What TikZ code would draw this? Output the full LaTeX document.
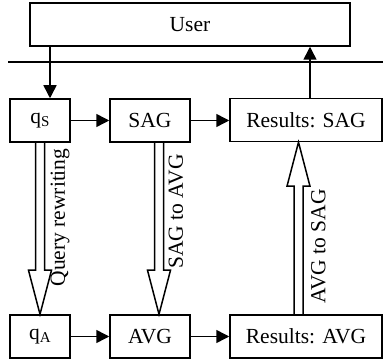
\documentclass[tikz,border=0pt]{standalone}
\usepackage{fontspec}
\setmainfont{Liberation Serif}
\usetikzlibrary{arrows.meta,calc,positioning}
\tikzstyle{block} = [draw, line width=1.5pt, minimum height=43pt, inner sep=0pt, font=\fontsize{21.5}{24}\selectfont]
\tikzstyle{flow} = [line width=1.5pt, -{Triangle[length=13pt,width=13pt]}]
\tikzstyle{fat} = [line width=1.5pt, line join=miter]
\tikzstyle{lbl} = [inner sep=0pt, rotate=90, font=\fontsize{21.5}{24}\selectfont]
\newcommand{\sub}[1]{\raisebox{-3pt}{\fontsize{15}{15}\selectfont #1}}
% hollow arrow: #1 start, #2 tip, #3 = 1 (down) or -1 (up)
\newcommand{\fatarrow}[3]{%
	\draw[fat] ($(#1)+(-4.5,0)$) -- ($(#2)+(-4.5,#3*44)$) -- ($(#2)+(-11.5,#3*44)$)
		-- (#2) -- ($(#2)+(11.5,#3*44)$) -- ($(#2)+(4.5,#3*44)$) -- ($(#1)+(4.5,0)$);}

\begin{document}
\begin{tikzpicture}[x=1pt,y=1pt]

	\useasboundingbox (0,0) rectangle (383,361);

	\node[block, minimum width=320pt] (user) at (190,336.5) {User};
	\draw[line width=1.5pt] (8,299) -- (383,299);

	\node[block, minimum width=60pt] (qs) at (40,240.5) {q\sub{S}};
	\node[block, minimum width=80pt] (sag) at (150,240.5) {SAG};
	\node[block, minimum width=152pt] (ressag) at (306,241) {Results: SAG};

	\node[block, minimum width=60pt] (qa) at (40,24.5) {q\sub{A}};
	\node[block, minimum width=80pt] (avg) at (150,24.5) {AVG};
	\node[block, minimum width=152pt] (resavg) at (306,24.5) {Results: AVG};

	\coordinate (qsin) at ($(qs.north)+(10,0)$);
	\coordinate (sagout) at ($(sag.south)+(9,0)$);
	\coordinate (avgin) at ($(avg.north)+(9,0)$);
	\coordinate (resavgout) at ($(resavg.north)+(-7.5,0)$);
	\coordinate (ressagin) at ($(ressag.south)+(-7.5,0)$);
	\coordinate (ressagout) at ($(ressag.north)+(4,0)$);

	\draw[flow] (user.south -| qsin) -- (qsin);
	\draw[flow] (ressagout) -- (ressagout |- user.south);
	\draw[flow] (qs) -- (sag);
	\draw[flow] (sag) -- (ressag.west |- sag);
	\draw[flow] (qa) -- (avg);
	\draw[flow] (avg) -- (resavg);

	\fatarrow{qs.south}{qa.north}{1}
	\fatarrow{sagout}{avgin}{1}
	\fatarrow{resavgout}{ressagin}{-1}

	\node[lbl] (qrtext) at ($(qs.south)!0.5!(qa.north)+(20,11)$) {Query rewriting};
	\node[lbl] (satext) at ($(sagout)!0.5!(avgin)+(17,17)$) {SAG to AVG};
	\node[lbl] (astext) at ($(resavgout)!0.5!(ressagin)+(20,-18)$) {AVG to SAG};

\end{tikzpicture}
\end{document}
